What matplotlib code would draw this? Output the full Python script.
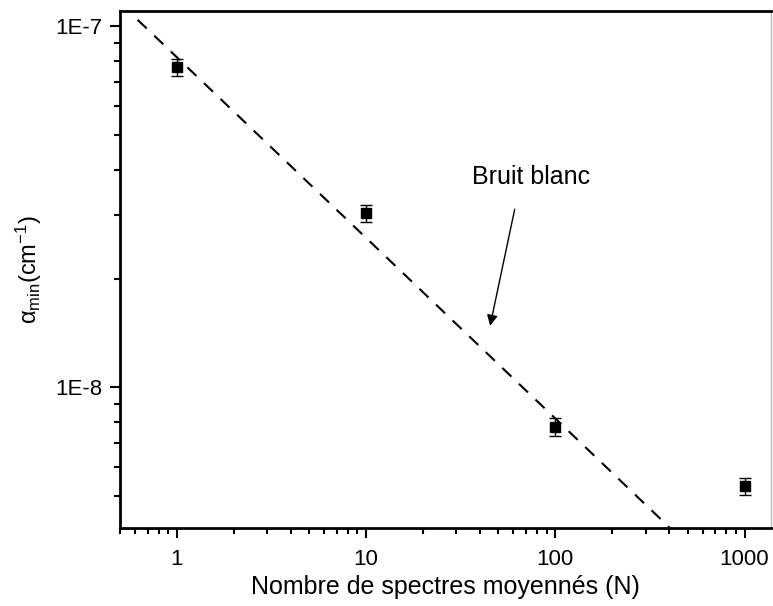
import numpy as np
import matplotlib
matplotlib.use("Agg")
import matplotlib.pyplot as plt

plt.rcParams['font.family'] = ['Liberation Sans', 'DejaVu Sans']
plt.rcParams['mathtext.fontset'] = 'custom'
plt.rcParams['mathtext.rm'] = 'Liberation Sans'
plt.rcParams['mathtext.it'] = 'Liberation Sans:italic'

# measured points
n_avg = [1, 10, 100, 1000]
alpha_min = [7.7e-8, 3.03e-8, 7.77e-9, 5.33e-9]
alpha_err = [4.2e-9, 1.7e-9, 4.3e-10, 2.9e-10]

# white noise line (N^-1/2), endpoints
wn_n = [0.62, 400]
wn_alpha = [1.04e-7, 4.1e-9]

fig = plt.figure(figsize=(7.73, 6.06), dpi=100)
ax = fig.add_axes([0.1552, 0.1287, 0.8422, 0.8531])

ax.plot(wn_n, wn_alpha, color='black', lw=1.5, ls=(0, (6, 5)))
ax.errorbar(n_avg, alpha_min, yerr=alpha_err, fmt='s', color='black',
            ms=7.5, elinewidth=1, capsize=4, capthick=1)

ax.set_xscale('log')
ax.set_yscale('log')
ax.set_xlim(0.5, 1380)
ax.set_ylim(4.08e-9, 1.1e-7)

ax.set_xticks([1, 10, 100, 1000])
ax.set_xticklabels(['1', '10', '100', '1000'])
ax.set_yticks([1e-8, 1e-7])
ax.set_yticklabels(['1E-8', '1E-7'])

ax.tick_params(which='major', direction='out', length=7, width=1.5, labelsize=16)
ax.tick_params(axis='x', which='major', pad=8)
ax.tick_params(axis='y', which='major', pad=6)
ax.tick_params(which='minor', direction='out', length=4.5, width=1.5)
ax.tick_params(axis='y', which='minor', labelleft=False)
ax.tick_params(axis='x', which='minor', labelbottom=False)

for side in ['left', 'bottom', 'top']:
    ax.spines[side].set_linewidth(2)
ax.spines['right'].set_linewidth(1)
ax.spines['right'].set_color('#bbbbbb')

ax.set_xlabel('Nombre de spectres moyennés (N)', fontsize=18, labelpad=4)
ax.set_ylabel('α$_{\\mathrm{min}}$(cm$^{-1}$)', fontsize=17, labelpad=8)

ax.annotate('', xy=(45.2, 1.48e-8), xytext=(61, 3.11e-8),
            arrowprops=dict(arrowstyle='-|>', color='black', lw=1,
                            mutation_scale=16, shrinkA=0, shrinkB=0))
ax.text(74, 3.65e-8, 'Bruit blanc', fontsize=18, ha='center', va='baseline')

plt.savefig('out.png', dpi=100)
